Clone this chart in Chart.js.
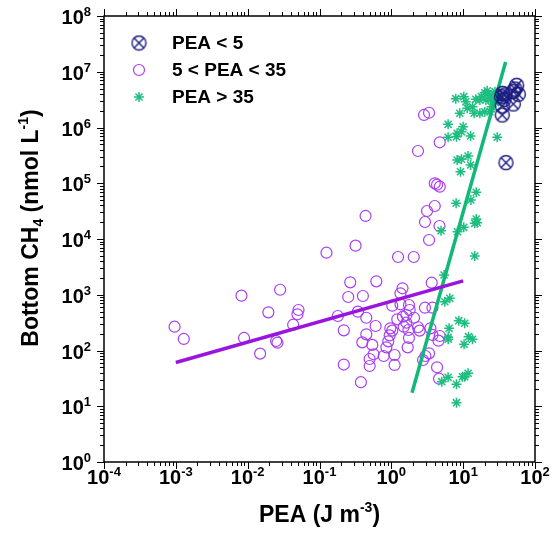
<!DOCTYPE html>
<html>
<head>
<meta charset="utf-8">
<script src="https://cdn.jsdelivr.net/npm/chart.js@4/dist/chart.umd.min.js"></script>
<style>
  html, body { margin: 0; padding: 0; background: #fff; }
  #wrap { width: 556px; height: 533px; }
</style>
</head>
<body>
<div id="wrap"><canvas id="myChart" width="556" height="533"></canvas></div>
<script>
  // PEA < 5
  const peaLowX = [55.5, 35.4, 38.1, 34.3, 52.6, 58.5, 49.8, 35, 35, 39.4, 49.8, 37];
  const peaLowY = [5.7e6, 4.1e6, 3.83e6, 3.57e6, 4.9e6, 3.94e6, 2.64e6, 2.43e6, 1.68e6, 2.34e5, 4.39e6, 3.2e6];

  // 5 < PEA < 35
  const peaMidX = [0.00096, 0.00129, 0.0082, 0.0089, 0.0149, 0.0194, 0.0249, 0.026, 0.0283, 0.043,
    0.051, 0.0493, 0.125, 0.18, 0.218, 0.218, 0.268, 0.251, 0.318, 0.394,
    0.377, 0.402, 0.342, 4.02, 4.33, 4.72, 0.438, 4.02, 3.14, 2.94,
    4.68, 3.35, 1.24, 2.05, 0.618, 3.65, 1.43, 1.34, 1.03, 1.34,
    1.76, 1.80, 2.94, 3.74, 0.448, 1.21, 1.45, 1.62, 2.07, 0.604,
    1.49, 1.62, 0.968, 1.03, 1.73, 2.35, 2.48, 3.50, 3.74, 4.72,
    4.53, 0.448, 0.948, 1.76, 0.907, 0.543, 0.853, 1.69, 0.566, 0.782,
    1.11, 3.35, 2.98, 2.76, 0.499, 0.499, 1.11, 4.33, 4.62, 2.85,
    3.35, 4.72, 2.35];
  const peaMidY = [267, 161, 962, 168, 88, 484, 148, 138, 1230, 290,
    533, 446, 5680, 416, 230, 56, 1670, 912, 7590, 140,
    27, 950, 497, 99800, 94200, 86700, 25900, 39100, 31800, 20200,
    17100, 9600, 4750, 4750, 1740, 1645, 1306, 1062, 636, 674,
    655, 533, 586, 586, 387, 363, 404, 433, 387, 275,
    267, 315, 250, 227, 233, 261, 227, 250, 190, 182,
    150, 195, 187, 168, 146, 126, 114, 114, 85.5, 79.7,
    83, 89, 79.7, 67.6, 70.4, 52.7, 55, 50, 31.2, 1.68e6,
    1.84e6, 5.43e5, 3.79e5];

  // PEA > 35
  const peaHighX = [15.2, 7.98, 12.8, 15.2, 14.5, 15.7, 10.2, 8.34, 4.92, 14.5,
    5.42, 6.51, 5.55, 8.69, 10.5, 6.37, 6.17, 6.2, 11.9, 13.5,
    10.3, 11.7, 10.5, 9.79, 6.17, 5.04, 8.07, 8.07, 7.89, 10.2,
    10.9, 11.4, 13.5, 15.0, 17.1, 20.0, 21.6, 23.5, 24.1, 20.7,
    26.2, 27.7, 14.2, 17.1, 20.0, 23.5, 24.9, 8.98, 6.17, 9.98,
    8.24, 9.48, 12.7, 6.17, 8.07, 29.8, 8.24, 9.48, 11.7, 12.7,
    9.18, 30, 32, 28, 18];
  const peaHighY = [68800, 43700, 50100, 22800, 19100, 19600, 16200, 13500, 14100, 4960,
    2260, 863, 750, 343, 308, 250, 173, 159, 177, 159,
    129, 39, 33.9, 33.9, 33, 27.6, 24.8, 11.6, 3.29e6, 3.57e6,
    2.9e6, 2.21e6, 2.36e6, 3.2e6, 3.11e6, 4.21e6, 4.57e6, 3.83e6, 3.11e6, 3.11e6,
    3.57e6, 4.39e6, 1.8e6, 1.8e6, 1.92e6, 1.92e6, 2.36e6, 1.8e6, 1.14e6, 1.03e6,
    7.87e5, 8.41e5, 7.04e5, 6.67e5, 6.84e5, 6.67e5, 2.61e5, 2.69e5, 3.08e5, 2.12e5,
    1.61e5, 4.0e6, 3.3e6, 2.8e6, 3.6e6];

  // fitted lines
  const fitMidX = [0.001, 10];
  const fitMidY = [61, 1770];
  const fitHighX = [1.94, 39];
  const fitHighY = [17.5, 1.5e7];

  const legendLabels = ['PEA < 5', '5 < PEA < 35', 'PEA > 35'];
  const xExponents = [-4, -3, -2, -1, 0, 1, 2];
  const yExponents = [0, 1, 2, 3, 4, 5, 6, 7, 8];

  const navy = '#1a1a80';
  const purple = '#a83ef2';
  const purpleLine = '#9a14e0';
  const green = '#1dbf80';
  const greenLine = '#12b878';

  function toPoints(xs, ys) {
    return xs.map((x, i) => ({ x: x, y: ys[i] }));
  }

  // circle with an X inside
  function makeCrossCircle(r) {
    const c = document.createElement('canvas');
    const s = Math.ceil(r * 2 + 3);
    c.width = s; c.height = s;
    const g = c.getContext('2d');
    const m = s / 2;
    g.strokeStyle = navy;
    g.lineWidth = 1.4;
    g.beginPath();
    g.arc(m, m, r, 0, Math.PI * 2);
    g.stroke();
    const d = r * Math.SQRT1_2;
    g.beginPath();
    g.moveTo(m - d, m - d); g.lineTo(m + d, m + d);
    g.moveTo(m - d, m + d); g.lineTo(m + d, m - d);
    g.stroke();
    return c;
  }
  const crossCircle = makeCrossCircle(7);

  function drawPow(ctx, x, y, base, sup, bigFont, smallFont, rise) {
    ctx.font = bigFont;
    ctx.fillText(base, x, y);
    const w = ctx.measureText(base).width;
    ctx.font = smallFont;
    ctx.fillText(sup, x + w, y - rise);
    return w + ctx.measureText(sup).width;
  }

  const framePlugin = {
    id: 'frame',
    afterDraw(chart) {
      const ctx = chart.ctx;
      const a = chart.chartArea;
      const xs = chart.scales.x;
      const ys = chart.scales.y;
      ctx.save();
      ctx.strokeStyle = '#000';
      ctx.fillStyle = '#000';
      ctx.lineWidth = 1.5;
      ctx.strokeRect(a.left, a.top, a.right - a.left, a.bottom - a.top);

      ctx.lineWidth = 1;
      ctx.beginPath();
      // x ticks, bottom and top
      for (let e = -4; e <= 2; e++) {
        for (let k = 1; k <= 9; k++) {
          const v = k * Math.pow(10, e);
          if (v > 100.0001) break;
          const px = Math.round(xs.getPixelForValue(v)) + 0.5;
          const len = k === 1 ? 7 : 4;
          ctx.moveTo(px, a.bottom); ctx.lineTo(px, a.bottom + len);
          ctx.moveTo(px, a.top); ctx.lineTo(px, a.top - len);
        }
      }
      // y ticks, left and right
      for (let e = 0; e <= 8; e++) {
        for (let k = 1; k <= 9; k++) {
          const v = k * Math.pow(10, e);
          if (v > 1.0001e8) break;
          const py = Math.round(ys.getPixelForValue(v)) + 0.5;
          const len = k === 1 ? 7 : 4;
          ctx.moveTo(a.left, py); ctx.lineTo(a.left - len, py);
          ctx.moveTo(a.right, py); ctx.lineTo(a.right + len, py);
        }
      }
      ctx.stroke();

      const big = 'bold 20px "Liberation Sans", Arial, sans-serif';
      const small = 'bold 13px "Liberation Sans", Arial, sans-serif';
      ctx.textBaseline = 'alphabetic';
      ctx.textAlign = 'left';

      // x tick labels
      xExponents.forEach(e => {
        const px = xs.getPixelForValue(Math.pow(10, e));
        ctx.font = big;
        const w1 = ctx.measureText('10').width;
        ctx.font = small;
        const w2 = ctx.measureText(String(e)).width;
        drawPow(ctx, px - (w1 + w2) / 2, 484, '10', String(e), big, small, 8);
      });

      // y tick labels
      yExponents.forEach(e => {
        const py = ys.getPixelForValue(Math.pow(10, e));
        ctx.font = big;
        const w1 = ctx.measureText('10').width;
        ctx.font = small;
        const w2 = ctx.measureText(String(e)).width;
        drawPow(ctx, 91 - (w1 + w2), py + 8, '10', String(e), big, small, 8);
      });

      // axis titles
      const tBig = 'bold 23px "Liberation Sans", Arial, sans-serif';
      const tSmall = 'bold 14px "Liberation Sans", Arial, sans-serif';
      ctx.font = tBig;
      let w = ctx.measureText('PEA (J m').width + ctx.measureText(')').width;
      ctx.font = tSmall;
      w += ctx.measureText('-3').width;
      let cx = (a.left + a.right) / 2 - w / 2;
      cx += drawPow(ctx, cx, 522, 'PEA (J m', '-3', tBig, tSmall, 10);
      ctx.font = tBig;
      ctx.fillText(')', cx, 522);

      ctx.save();
      ctx.translate(38, 228);
      ctx.rotate(-Math.PI / 2);
      ctx.font = tBig;
      const p1 = 'Bottom CH', p2 = ' (nmol L', p3 = ')';
      let tw = ctx.measureText(p1).width + ctx.measureText(p2).width + ctx.measureText(p3).width;
      ctx.font = tSmall;
      tw += ctx.measureText('4').width + ctx.measureText('-1').width;
      let tx = -tw / 2;
      ctx.font = tBig;
      ctx.fillText(p1, tx, 0);
      tx += ctx.measureText(p1).width;
      ctx.font = tSmall;
      ctx.fillText('4', tx, 5);
      tx += ctx.measureText('4').width;
      tx += drawPow(ctx, tx, 0, p2, '-1', tBig, tSmall, 10);
      ctx.font = tBig;
      ctx.fillText(p3, tx, 0);
      ctx.restore();

      // legend
      const rows = [43, 70, 97];
      ctx.font = 'bold 19px "Liberation Sans", Arial, sans-serif';
      ctx.textBaseline = 'middle';
      legendLabels.forEach((lab, i) => {
        ctx.fillText(lab, 172, rows[i] + 1);
      });
      ctx.drawImage(crossCircle, 139 - crossCircle.width / 2, rows[0] - crossCircle.height / 2);
      ctx.strokeStyle = purple;
      ctx.lineWidth = 1.2;
      ctx.beginPath();
      ctx.arc(139, rows[1], 5.5, 0, Math.PI * 2);
      ctx.stroke();
      ctx.strokeStyle = green;
      ctx.fillStyle = green;
      ctx.lineWidth = 1.5;
      Chart.helpers.drawPoint(ctx, { pointStyle: 'star', radius: 5, borderWidth: 1.5 }, 139, rows[2]);
      ctx.restore();
    }
  };

  const ctx = document.getElementById('myChart').getContext('2d');
  const chart = new Chart(ctx, {
    type: 'scatter',
    data: {
      datasets: [
        {
          label: legendLabels[0],
          data: toPoints(peaLowX, peaLowY),
          pointStyle: crossCircle,
          order: 0
        },
        {
          label: 'fit mid',
          data: toPoints(fitMidX, fitMidY),
          showLine: true,
          borderColor: purpleLine,
          borderWidth: 3.5,
          pointRadius: 0,
          order: 1
        },
        {
          label: 'fit high',
          data: toPoints(fitHighX, fitHighY),
          showLine: true,
          borderColor: greenLine,
          borderWidth: 3.5,
          pointRadius: 0,
          order: 1
        },
        {
          label: legendLabels[2],
          data: toPoints(peaHighX, peaHighY),
          pointStyle: 'star',
          pointRadius: 5,
          borderColor: green,
          backgroundColor: green,
          pointBorderWidth: 1.5,
          order: 2
        },
        {
          label: legendLabels[1],
          data: toPoints(peaMidX, peaMidY),
          pointStyle: 'circle',
          pointRadius: 5.5,
          borderColor: purple,
          backgroundColor: 'rgba(0,0,0,0)',
          pointBorderWidth: 1.2,
          order: 3
        }
      ]
    },
    options: {
      responsive: false,
      animation: false,
      devicePixelRatio: 1,
      layout: { padding: { left: 104, right: 21, top: 16, bottom: 71 } },
      plugins: { legend: { display: false }, tooltip: { enabled: false } },
      scales: {
        x: { type: 'logarithmic', min: 1e-4, max: 1e2, display: false },
        y: { type: 'logarithmic', min: 1, max: 1e8, display: false }
      }
    },
    plugins: [framePlugin]
  });
</script>
</body>
</html>
